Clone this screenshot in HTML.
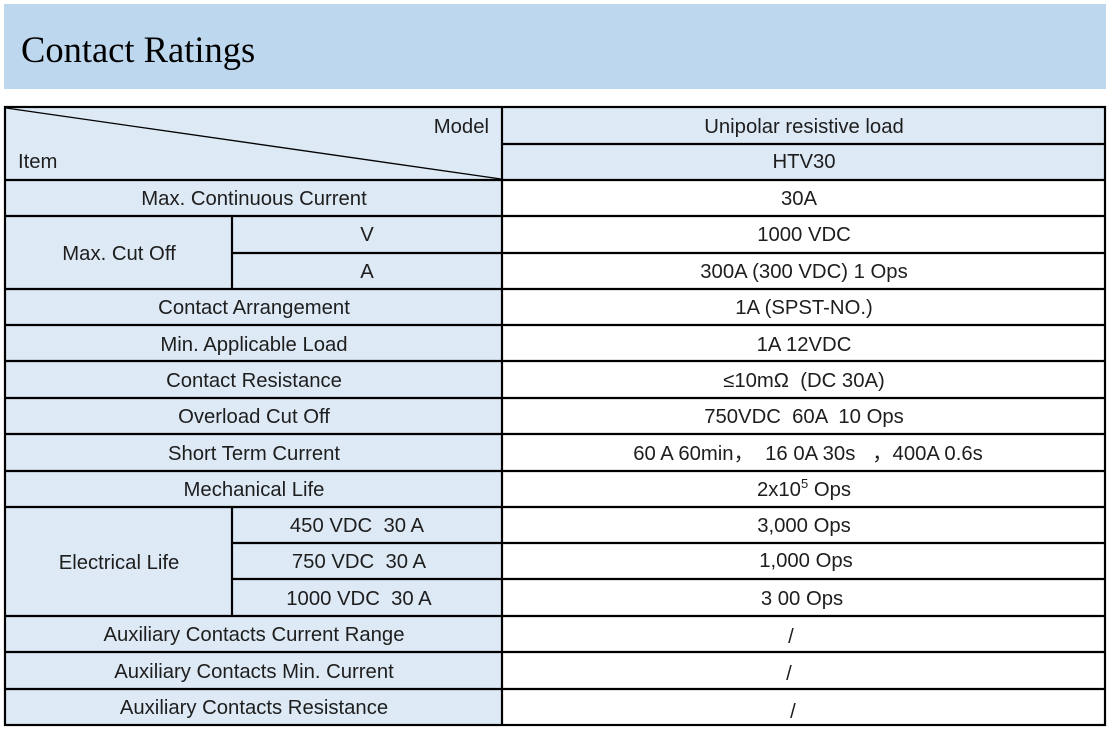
<!DOCTYPE html>
<html><head><meta charset="utf-8"><style>
body{margin:0;background:#fff;width:1115px;height:730px;overflow:hidden}
svg text{font-family:"Liberation Sans","Noto Sans CJK SC",sans-serif;font-size:20.3px;fill:#1e1e1e;white-space:pre}
</style></head><body>
<svg width="1115" height="730" xmlns="http://www.w3.org/2000/svg" xml:space="preserve">
<rect x="4" y="4" width="1102" height="85" fill="#bdd7ee"/>
<text x="21" y="62" style="font-family:'Liberation Serif',serif;font-size:36.5px;fill:#000">Contact Ratings</text>
<rect x="5" y="107" width="497" height="618" fill="#dde9f5"/>
<rect x="502" y="107" width="603" height="73" fill="#dde9f5"/>
<g stroke="#000" stroke-width="2.2" fill="none">
<rect x="5" y="107" width="1100" height="618"/>
<line x1="502" y1="107" x2="502" y2="725"/>
<line x1="232" y1="216" x2="232" y2="289"/>
<line x1="232" y1="507" x2="232" y2="616"/>
<line x1="502" y1="144" x2="1105" y2="144"/>
<line x1="5" y1="180" x2="1105" y2="180"/>
<line x1="5" y1="216" x2="1105" y2="216"/>
<line x1="232" y1="253" x2="1105" y2="253"/>
<line x1="5" y1="289" x2="1105" y2="289"/>
<line x1="5" y1="325" x2="1105" y2="325"/>
<line x1="5" y1="361" x2="1105" y2="361"/>
<line x1="5" y1="398" x2="1105" y2="398"/>
<line x1="5" y1="434" x2="1105" y2="434"/>
<line x1="5" y1="471" x2="1105" y2="471"/>
<line x1="5" y1="507" x2="1105" y2="507"/>
<line x1="232" y1="543" x2="1105" y2="543"/>
<line x1="232" y1="579" x2="1105" y2="579"/>
<line x1="5" y1="616" x2="1105" y2="616"/>
<line x1="5" y1="652" x2="1105" y2="652"/>
<line x1="5" y1="689" x2="1105" y2="689"/>
</g>
<line x1="6" y1="108" x2="501" y2="179" stroke="#000" stroke-width="1.3"/>
<text x="489" y="133" text-anchor="end">Model</text>
<text x="18" y="168">Item</text>
<g text-anchor="middle">
<text x="804" y="133">Unipolar resistive load</text>
<text x="804" y="168">HTV30</text>
<text x="254" y="205">Max. Continuous Current</text><text x="799" y="205">30A</text>
<text x="119" y="260">Max. Cut Off</text>
<text x="367" y="241">V</text><text x="804" y="241">1000 VDC</text>
<text x="367" y="278">A</text><text x="804" y="278">300A (300 VDC) 1 Ops</text>
<text x="254" y="314">Contact Arrangement</text><text x="804" y="314">1A (SPST-NO.)</text>
<text x="254" y="351">Min. Applicable Load</text><text x="804" y="351">1A 12VDC</text>
<text x="254" y="387">Contact Resistance</text><text x="804" y="387">≤10mΩ  (DC 30A)</text>
<text x="254" y="423">Overload Cut Off</text><text x="804" y="423">750VDC  60A  10 Ops</text>
<text x="254" y="460">Short Term Current</text><text x="808" y="460">60 A 60min，  16 0A 30s   ，400A 0.6s</text>
<text x="254" y="496">Mechanical Life</text><text x="804" y="496">2x10<tspan dy="-8" font-size="13">5</tspan><tspan dy="8"> Ops</tspan></text>
<text x="119" y="569">Electrical Life</text>
<text x="357" y="532">450 VDC  30 A</text><text x="804" y="532">3,000 Ops</text>
<text x="359" y="568">750 VDC  30 A</text><text x="806" y="567">1,000 Ops</text>
<text x="359" y="605">1000 VDC  30 A</text><text x="802" y="605">3 00 Ops</text>
<text x="254" y="641">Auxiliary Contacts Current Range</text><text x="791" y="643">/</text>
<text x="254" y="678">Auxiliary Contacts Min. Current</text><text x="789" y="680">/</text>
<text x="254" y="714">Auxiliary Contacts Resistance</text><text x="793" y="718">/</text>
</g>
</svg>
</body></html>
